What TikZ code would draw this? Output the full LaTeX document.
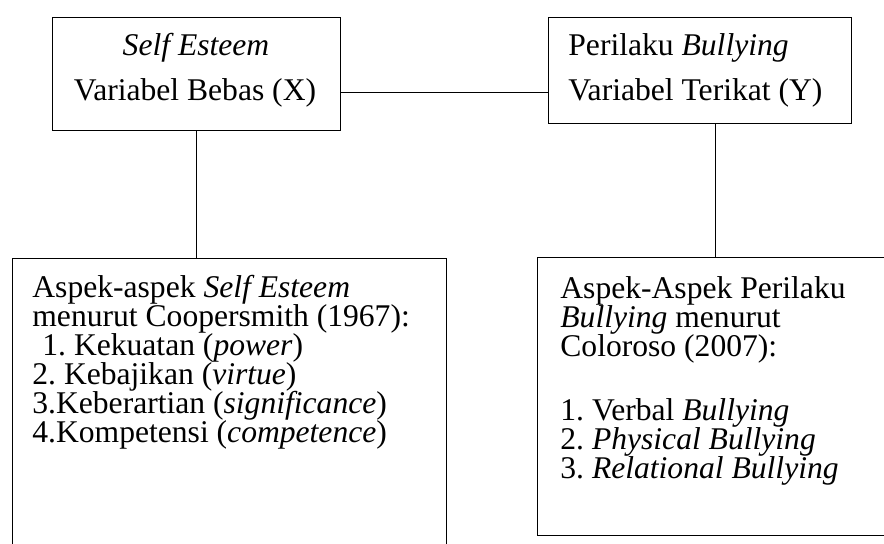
\documentclass[tikz,border=0pt]{standalone}
\usepackage{fontspec}
\setmainfont{Liberation Serif}
\frenchspacing
\begin{document}
\begin{tikzpicture}[x=0.5pt, y=-0.5pt,
        varbox/.style={draw, line width=0.5pt, inner sep=0pt, anchor=north west},
        txtline/.style={anchor=base west, inner sep=0pt, font=\fontsize{15.8}{19}\selectfont},
        link/.style={line width=0.6pt}]
        % Frame of the picture
        \useasboundingbox (0,0) rectangle (884,543);
        \clip (0,0) rectangle (884,543);

        % Variable boxes
        \node[varbox, minimum width=144pt, minimum height=56.5pt] (bebas) at (52,17) {};
        \node[varbox, minimum width=151.5pt, minimum height=53pt] (terikat) at (548,17) {};

        % Aspect boxes (they run past the lower and right edge)
        \node[varbox, minimum width=217pt, minimum height=171pt] (aspekX) at (12,258) {};
        \node[varbox, minimum width=176.5pt, minimum height=139pt] (aspekY) at (537,257) {};

        % Texts of the variable boxes
        \node[txtline, anchor=base] (bebas1) at (196,55) {\textit{Self Esteem}};
        \node[txtline, anchor=base] (bebas2) at (195,100) {Variabel Bebas (X)};
        \node[txtline] (terikat1) at (568,55) {Perilaku \textit{Bullying}};
        \node[txtline] (terikat2) at (568,100) {Variabel Terikat (Y)};

        % Aspects of self esteem
        \foreach \txt [count=\i from 0] in {{Aspek-aspek \textit{Self Esteem}},
                {menurut Coopersmith (1967):},
                {\hspace*{5pt}1. Kekuatan (\textit{power})},
                {2. Kebajikan (\textit{virtue})},
                {3.Keberartian (\textit{significance})},
                {4.Kompetensi (\textit{competence})}}
            \node[txtline] (aspekX-\i) at (32,{297+29*\i}) {\txt};

        % Aspects of bullying (a gap after the source)
        \foreach \y/\txt [count=\k] in {298/{Aspek-Aspek Perilaku},
                327/{\textit{Bullying} menurut},
                356/{Coloroso (2007):},
                420/{1. Verbal \textit{Bullying}},
                449/{2. \textit{Physical Bullying}},
                478/{3. \textit{Relational Bullying}}}
            \node[txtline] (aspekY-\k) at (560,\y) {\txt};

        % Connectors
        \draw[link, line width=0.8pt] ([yshift=-9.25pt]bebas.east) -- ([yshift=-9.25pt]bebas.east -| terikat.west);
        \draw[link] (bebas.south) -- (bebas.south |- aspekX.north);
        \draw[link] ([xshift=7.75pt]terikat.south) -- ([xshift=7.75pt]terikat.south |- aspekY.north);
    \end{tikzpicture}
\end{document}
